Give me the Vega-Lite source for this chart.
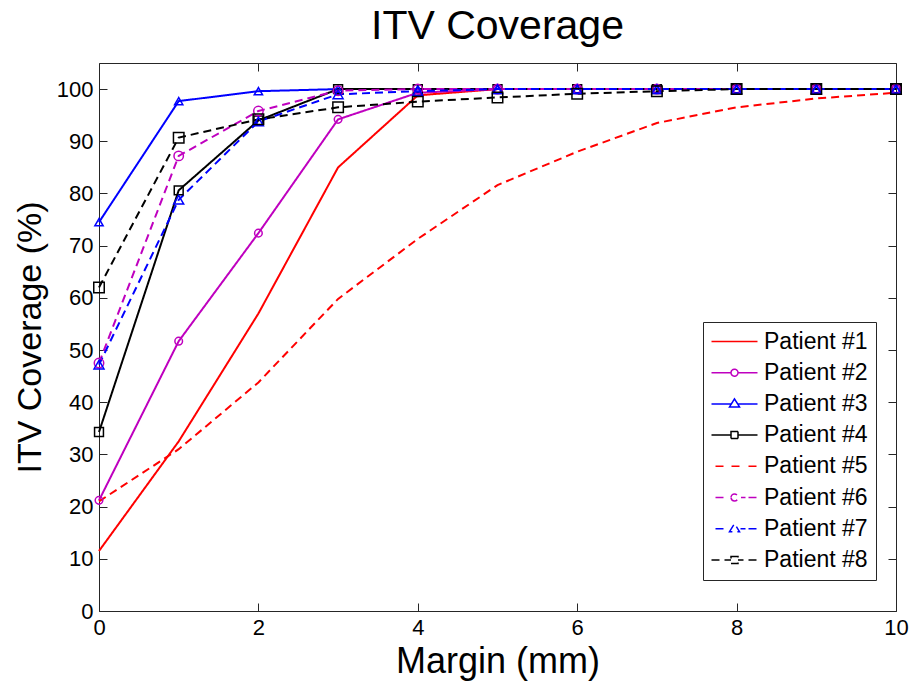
{
  "$schema": "https://vega.github.io/schema/vega-lite/v6.json",
  "width": 797,
  "height": 548,
  "autosize": "none",
  "padding": {"left": 99, "top": 63, "right": 19, "bottom": 75},
  "background": "white",
  "title": {"text": "ITV Coverage", "fontSize": 41, "font": "Liberation Sans", "fontWeight": "normal", "color": "black", "offset": -17, "baseline": "alphabetic", "anchor": "middle"},
  "config": {
    "view": {"stroke": "#262626", "strokeWidth": 1},
    "font": "Liberation Sans",
    "axis": {"grid": false, "domain": false, "tickSize": -8, "tickColor": "#262626", "tickWidth": 1, "labelFont": "Liberation Sans", "labelFontSize": 22, "labelColor": "black", "titleFont": "Liberation Sans", "titleFontSize": 36, "titleFontWeight": "normal", "titleColor": "black", "labelFlush": false, "labelOverlap": false}
  },
  "data": {"values": [
    {"p": "Patient #1", "x": 0, "y": 11.5}, {"p": "Patient #1", "x": 1, "y": 32.5}, {"p": "Patient #1", "x": 2, "y": 57}, {"p": "Patient #1", "x": 3, "y": 85}, {"p": "Patient #1", "x": 4, "y": 98.8}, {"p": "Patient #1", "x": 5, "y": 100}, {"p": "Patient #1", "x": 6, "y": 100}, {"p": "Patient #1", "x": 7, "y": 100}, {"p": "Patient #1", "x": 8, "y": 100}, {"p": "Patient #1", "x": 9, "y": 100}, {"p": "Patient #1", "x": 10, "y": 100},
    {"p": "Patient #2", "x": 0, "y": 21.2}, {"p": "Patient #2", "x": 1, "y": 51.7}, {"p": "Patient #2", "x": 2, "y": 72.4}, {"p": "Patient #2", "x": 3, "y": 94.2}, {"p": "Patient #2", "x": 4, "y": 99.3}, {"p": "Patient #2", "x": 5, "y": 100}, {"p": "Patient #2", "x": 6, "y": 100}, {"p": "Patient #2", "x": 7, "y": 100}, {"p": "Patient #2", "x": 8, "y": 100}, {"p": "Patient #2", "x": 9, "y": 100}, {"p": "Patient #2", "x": 10, "y": 100},
    {"p": "Patient #3", "x": 0, "y": 74.5}, {"p": "Patient #3", "x": 1, "y": 97.7}, {"p": "Patient #3", "x": 2, "y": 99.6}, {"p": "Patient #3", "x": 3, "y": 100}, {"p": "Patient #3", "x": 4, "y": 100}, {"p": "Patient #3", "x": 5, "y": 100}, {"p": "Patient #3", "x": 6, "y": 100}, {"p": "Patient #3", "x": 7, "y": 100}, {"p": "Patient #3", "x": 8, "y": 100}, {"p": "Patient #3", "x": 9, "y": 100}, {"p": "Patient #3", "x": 10, "y": 100},
    {"p": "Patient #4", "x": 0, "y": 34.3}, {"p": "Patient #4", "x": 1, "y": 80.6}, {"p": "Patient #4", "x": 2, "y": 94}, {"p": "Patient #4", "x": 3, "y": 100}, {"p": "Patient #4", "x": 4, "y": 100}, {"p": "Patient #4", "x": 5, "y": 100}, {"p": "Patient #4", "x": 6, "y": 100}, {"p": "Patient #4", "x": 7, "y": 100}, {"p": "Patient #4", "x": 8, "y": 100}, {"p": "Patient #4", "x": 9, "y": 100}, {"p": "Patient #4", "x": 10, "y": 100},
    {"p": "Patient #5", "x": 0, "y": 21}, {"p": "Patient #5", "x": 1, "y": 31}, {"p": "Patient #5", "x": 2, "y": 43.8}, {"p": "Patient #5", "x": 3, "y": 59.8}, {"p": "Patient #5", "x": 4, "y": 71.3}, {"p": "Patient #5", "x": 5, "y": 81.6}, {"p": "Patient #5", "x": 6, "y": 88}, {"p": "Patient #5", "x": 7, "y": 93.5}, {"p": "Patient #5", "x": 8, "y": 96.5}, {"p": "Patient #5", "x": 9, "y": 98.2}, {"p": "Patient #5", "x": 10, "y": 99.3},
    {"p": "Patient #6", "x": 0, "y": 47.5}, {"p": "Patient #6", "x": 1, "y": 87.2}, {"p": "Patient #6", "x": 2, "y": 95.8}, {"p": "Patient #6", "x": 3, "y": 99.7}, {"p": "Patient #6", "x": 4, "y": 100}, {"p": "Patient #6", "x": 5, "y": 100}, {"p": "Patient #6", "x": 6, "y": 100}, {"p": "Patient #6", "x": 7, "y": 100}, {"p": "Patient #6", "x": 8, "y": 100}, {"p": "Patient #6", "x": 9, "y": 100}, {"p": "Patient #6", "x": 10, "y": 100},
    {"p": "Patient #7", "x": 0, "y": 47.2}, {"p": "Patient #7", "x": 1, "y": 78.8}, {"p": "Patient #7", "x": 2, "y": 93.8}, {"p": "Patient #7", "x": 3, "y": 99}, {"p": "Patient #7", "x": 4, "y": 99.6}, {"p": "Patient #7", "x": 5, "y": 100}, {"p": "Patient #7", "x": 6, "y": 100}, {"p": "Patient #7", "x": 7, "y": 100}, {"p": "Patient #7", "x": 8, "y": 100}, {"p": "Patient #7", "x": 9, "y": 100}, {"p": "Patient #7", "x": 10, "y": 100},
    {"p": "Patient #8", "x": 0, "y": 62}, {"p": "Patient #8", "x": 1, "y": 90.7}, {"p": "Patient #8", "x": 2, "y": 94.2}, {"p": "Patient #8", "x": 3, "y": 96.5}, {"p": "Patient #8", "x": 4, "y": 97.6}, {"p": "Patient #8", "x": 5, "y": 98.4}, {"p": "Patient #8", "x": 6, "y": 99.1}, {"p": "Patient #8", "x": 7, "y": 99.6}, {"p": "Patient #8", "x": 8, "y": 100}, {"p": "Patient #8", "x": 9, "y": 100}, {"p": "Patient #8", "x": 10, "y": 100}
  ]},
  "layer": [
    {
      "mark": {"type": "line", "strokeWidth": 2},
      "encoding": {
        "x": {"field": "x", "type": "quantitative", "scale": {"domain": [0, 10], "nice": false, "zero": false},
              "axis": {"orient": "bottom", "values": [0, 2, 4, 6, 8, 10], "title": "Margin (mm)", "labelPadding": 14, "titlePadding": 6}},
        "y": {"field": "y", "type": "quantitative", "scale": {"domain": [0, 105], "nice": false},
              "axis": {"orient": "left", "values": [0, 10, 20, 30, 40, 50, 60, 70, 80, 90, 100], "title": "ITV Coverage (%)", "titleFontSize": 34, "labelPadding": 14, "titlePadding": 9}},
        "color": {"field": "p", "type": "nominal",
                  "scale": {"domain": ["Patient #1", "Patient #2", "Patient #3", "Patient #4", "Patient #5", "Patient #6", "Patient #7", "Patient #8"],
                            "range": ["#ff0000", "#bf00bf", "#0000ff", "#000000", "#ff0000", "#bf00bf", "#0000ff", "#000000"]},
                  "legend": {"orient": "none", "legendX": 604, "legendY": 259, "title": null,
                             "labelFont": "Liberation Sans", "labelFontSize": 23, "labelColor": "black", "labelOffset": 30,
                             "symbolSize": 400, "symbolStrokeWidth": 1.5, "rowPadding": 7.2, "padding": 8,
                             "strokeColor": "#262626", "fillColor": "white",
                             "encoding": {"symbols": {
                               "fill": {"value": "transparent"},
                               "shape": {"value": {"expr": "datum.value === 'Patient #1' ? 'M-1.1,0H3.5' : datum.value === 'Patient #2' ? 'M-1.1,0H0.85M1.55,0H3.5M0.85,0A0.35,0.35 0 1 1 1.55,0A0.35,0.35 0 1 1 0.85,0' : datum.value === 'Patient #3' ? 'M-1.1,0H0.89M1.51,0H3.5M0.7,0.3L1.2,-0.5L1.7,0.3Z' : datum.value === 'Patient #4' ? 'M-1.1,0H0.85M1.55,0H3.5M0.85,-0.35H1.55V0.35H0.85Z' : datum.value === 'Patient #5' ? 'M-0.7,0H0.2M0.9,0H1.8M2.6,0H3.5' : datum.value === 'Patient #6' ? 'M-0.7,0H0.55M1.85,0H2.3M2.6,0H3.5M0.85,0A0.35,0.35 0 1 1 1.55,0A0.35,0.35 0 1 1 0.85,0' : datum.value === 'Patient #7' ? 'M-0.7,0H0.6M1.8,0H2.3M2.6,0H3.5M0.7,0.3L1.2,-0.5L1.7,0.3Z' : 'M-1.1,0H0.85M1.55,0H2.1M2.6,0H3.5M0.85,-0.35H1.55V0.35H0.85Z'"}}
                             }}}},
        "strokeDash": {"field": "p", "type": "nominal",
                       "scale": {"domain": ["Patient #1", "Patient #2", "Patient #3", "Patient #4", "Patient #5", "Patient #6", "Patient #7", "Patient #8"],
                                 "range": [[1, 0], [1, 0], [1, 0], [1, 0], [8, 5], [8, 5], [8, 5], [8, 5]]},
                       "legend": null}
      }
    },
    {
      "transform": [{"filter": "datum.p !== 'Patient #1' && datum.p !== 'Patient #5'"}],
      "mark": {"type": "point", "filled": false, "strokeWidth": 1.5, "opacity": 1},
      "encoding": {
        "x": {"field": "x", "type": "quantitative", "axis": {"orient": "top", "values": [0, 2, 4, 6, 8, 10], "labels": false, "title": null}},
        "y": {"field": "y", "type": "quantitative", "axis": {"orient": "right", "values": [0, 10, 20, 30, 40, 50, 60, 70, 80, 90, 100], "labels": false, "title": null}},
        "color": {"field": "p", "type": "nominal", "legend": null},
        "shape": {"field": "p", "type": "nominal",
                  "scale": {"domain": ["Patient #2", "Patient #3", "Patient #4", "Patient #6", "Patient #7", "Patient #8"],
                            "range": ["circle", "triangle-up", "square", "circle", "triangle-up", "square"]},
                  "legend": null},
        "size": {"field": "p", "type": "nominal",
                 "scale": {"domain": ["Patient #2", "Patient #3", "Patient #4", "Patient #6", "Patient #7", "Patient #8"],
                           "range": [58, 110, 105, 58, 110, 105]},
                 "legend": null}
      }
    }
  ],
  "resolve": {"axis": {"x": "independent", "y": "independent"}}
}
